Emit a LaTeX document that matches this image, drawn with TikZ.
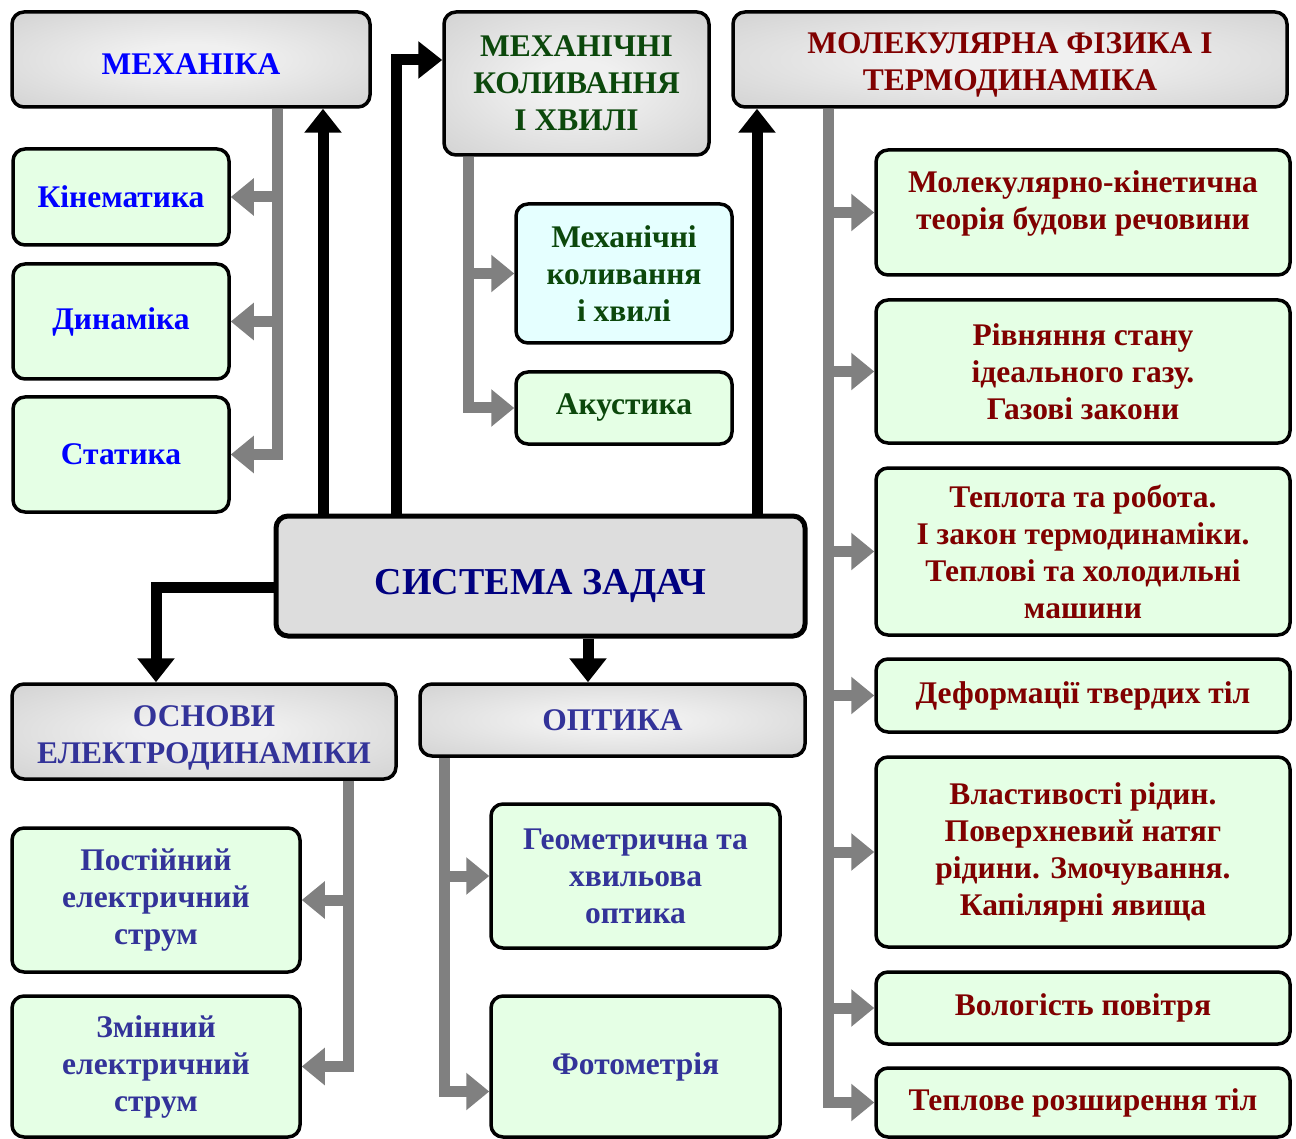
\documentclass[tikz,border=0pt]{standalone}
\usepackage{fontspec}
\setmainfont{Liberation Serif}
\usetikzlibrary{arrows.meta,shadings}
\definecolor{mblue}{RGB}{0,0,255}
\definecolor{mgreen}{RGB}{12,72,12}
\definecolor{mred}{RGB}{128,0,0}
\definecolor{eblue}{RGB}{51,51,153}
\definecolor{snavy}{RGB}{0,0,128}
\definecolor{lgreen}{RGB}{229,255,229}
\definecolor{lcyan}{RGB}{229,255,255}
\definecolor{sysgray}{RGB}{221,221,221}
\definecolor{conngray}{RGB}{128,128,128}
\definecolor{hc}{RGB}{240,240,240}
\definecolor{ho}{RGB}{204,204,204}
\pgfdeclareradialshading{hdrshade}{\pgfpoint{0bp}{0bp}}{color(0bp)=(hc); color(8bp)=(hc); color(42bp)=(ho); color(50bp)=(ho)}
\newcommand{\mvtext}[2]{\raisebox{#1}[\height][\depth]{\begin{tabular}{@{}c@{}}#2\end{tabular}}}
\newcommand{\mvone}[2]{\raisebox{#1}[\height][\depth]{#2}}
\tikzset{
  box/.style={draw=black, line width=3.5pt, rounded corners=12pt, align=center,
    font=\fontsize{31.5}{37}\selectfont\bfseries, inner sep=0pt},
  hdr/.style={box, shading=hdrshade},
  sub/.style={box, fill=lgreen},
  subc/.style={box, fill=lcyan},
  sysbox/.style={box, fill=sysgray, line width=5pt, font=\fontsize{38}{44}\selectfont\bfseries},
  bconn/.style={draw=black, line width=11pt, line join=miter, -{Triangle[width=36pt,length=24pt]}},
  gconn/.style={draw=conngray, line width=11pt, line join=miter, -{Triangle[width=36pt,length=23pt]}},
}
\begin{document}
\begin{tikzpicture}[x=1pt,y=-1pt]
\useasboundingbox (0,0) rectangle (1296,1139);
% headers
\node[hdr, minimum width=358pt, minimum height=95pt, text=mblue] (mech) at (191,59.5) {\mvone{-5pt}{МЕХАНІКА}};
\node[hdr, minimum width=265pt, minimum height=143pt, text=mgreen] (mkh) at (576.5,83.5) {МЕХАНІЧНІ\\КОЛИВАННЯ\\І ХВИЛІ};
\node[hdr, minimum width=554pt, minimum height=95pt, text=mred] (mol) at (1010,59.5) {\mvtext{-5pt}{МОЛЕКУЛЯРНА ФІЗИКА І\\ТЕРМОДИНАМІКА}};
\node[hdr, minimum width=384pt, minimum height=95pt, text=eblue] (elec) at (204,731.5) {\mvtext{-6pt}{ОСНОВИ\\ЕЛЕКТРОДИНАМІКИ}};
\node[hdr, minimum width=385pt, minimum height=72pt, text=eblue] (opt) at (612.5,720) {ОПТИКА};
\node[sysbox, minimum width=529pt, minimum height=120pt, text=snavy] (sys) at (540.5,576) {\mvone{-10pt}{СИСТЕМА ЗАДАЧ}};
% mechanics
\node[sub, minimum width=216pt, minimum height=96pt, text=mblue] (kin) at (121,197) {Кінематика};
\node[sub, minimum width=216pt, minimum height=115pt, text=mblue] (dyn) at (121,321.5) {Динаміка};
\node[sub, minimum width=216pt, minimum height=115pt, text=mblue] (stat) at (121,454.5) {Статика};
% oscillations
\node[subc, minimum width=216pt, minimum height=139pt, text=mgreen] (mkh2) at (624,273.5) {Механічні\\коливання\\і хвилі};
\node[sub, minimum width=216pt, minimum height=72pt, text=mgreen] (akus) at (624,408) {Акустика};
% electro
\node[sub, minimum width=288pt, minimum height=144pt, text=eblue] (post) at (156,900) {Постійний\\електричний\\струм};
\node[sub, minimum width=288pt, minimum height=141pt, text=eblue] (zmin) at (156,1066.5) {Змінний\\електричний\\струм};
% optics
\node[sub, minimum width=289pt, minimum height=144pt, text=eblue] (geom) at (635.5,876) {Геометрична та\\хвильова\\оптика};
\node[sub, minimum width=289pt, minimum height=141pt, text=eblue] (foto) at (635.5,1066.5) {Фотометрія};
% molecular
\node[sub, minimum width=414pt, minimum height=125pt, text=mred] (r1) at (1083,212.5) {\mvtext{9pt}{Молекулярно-кінетична\\теорія будови речовини}};
\node[sub, minimum width=414pt, minimum height=143pt, text=mred] (r2) at (1083,371.5) {Рівняння стану\\ідеального газу.\\Газові закони};
\node[sub, minimum width=414pt, minimum height=167pt, text=mred] (r3) at (1083,551.5) {\mvtext{-4pt}{Теплота та робота.\\І закон термодинаміки.\\Теплові та холодильні\\машини}};
\node[sub, minimum width=414pt, minimum height=73pt, text=mred] (r4) at (1083,695.5) {Деформації твердих тіл};
\node[sub, minimum width=414pt, minimum height=190pt, text=mred] (r5) at (1083,852) {Властивості рідин.\\Поверхневий натяг\\рідини. Змочування.\\Капілярні явища};
\node[sub, minimum width=414pt, minimum height=72pt, text=mred] (r6) at (1083,1008) {Вологість повітря};
\node[sub, minimum width=414pt, minimum height=69pt, text=mred] (r7) at (1083,1102.5) {Теплове розширення тіл};
% helper coordinates
\coordinate (b1) at (323,0);
\coordinate (b2) at (396,0);
\coordinate (b3) at (757,0);
\coordinate (b4) at (156,0);
\coordinate (b5) at (588,0);
\coordinate (g1) at (277,0);
\coordinate (g2) at (468,0);
\coordinate (g3) at (828,0);
\coordinate (g4) at (348,0);
\coordinate (g5) at (444,0);
% black connectors
\draw[bconn] (sys.north -| b1) -- (mech.south -| b1);
\draw[bconn] (sys.north -| b2) |- ([yshift=23.5pt]mkh.west);
\draw[bconn] (sys.north -| b3) -- (mol.south -| b3);
\draw[bconn] ([yshift=-11pt]sys.west) -| (elec.north -| b4);
\draw[bconn] (sys.south -| b5) -- (opt.north -| b5);
% gray connectors
\draw[gconn] (mech.south -| g1) |- (stat.east);
\draw[gconn] (kin.east -| g1) -- (kin.east);
\draw[gconn] (dyn.east -| g1) -- (dyn.east);
\draw[gconn] (mkh.south -| g2) |- (akus.west);
\draw[gconn] (mkh2.west -| g2) -- (mkh2.west);
\draw[gconn] (mol.south -| g3) |- (r7.west);
\foreach \r in {r1,r2,r3,r4,r5,r6} \draw[gconn] (\r.west -| g3) -- (\r.west);
\draw[gconn] (elec.south -| g4) |- (zmin.east);
\draw[gconn] (post.east -| g4) -- (post.east);
\draw[gconn] (opt.south -| g5) |- ([yshift=-25pt]foto.west);
\draw[gconn] (geom.west -| g5) -- (geom.west);
\end{tikzpicture}
\end{document}
